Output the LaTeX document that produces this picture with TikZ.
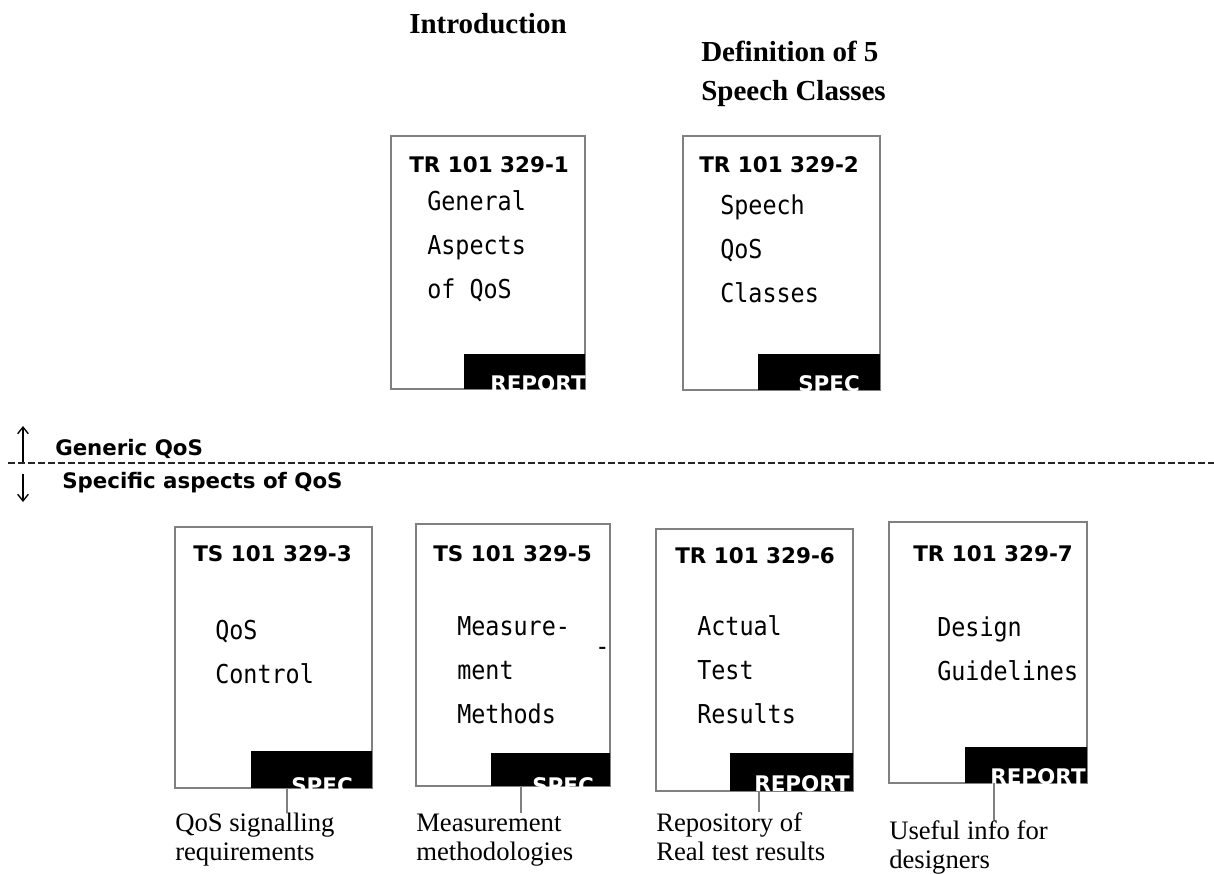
\documentclass[tikz,border=0pt]{standalone}
\usepackage{fontspec}
\setmainfont{Liberation Serif}
\newfontfamily\tagfont{DejaVu Sans}
\newfontfamily\bodyfont[FakeStretch=0.9]{DejaVu Sans Mono}
\usetikzlibrary{arrows.meta}
\tikzset{every node/.style={inner sep=0pt},
  docframe/.style={draw=black!50,line width=1.5pt},
  tagbar/.style={fill=black},
  tagtext/.style={anchor=base west,text=white,font=\tagfont\fontsize{16.1pt}{19pt}\selectfont\bfseries},
  docno/.style={anchor=base west,font=\tagfont\fontsize{16.1pt}{19pt}\selectfont\bfseries},
  doctitle/.style={anchor=base west,align=left,font=\bodyfont\fontsize{19.5pt}{33pt}\selectfont},
  heading/.style={anchor=base west,align=left,font=\fontsize{21.75pt}{29.25pt}\selectfont\bfseries},
  note/.style={anchor=base west,align=left,font=\fontsize{20pt}{21.75pt}\selectfont},
  leader/.style={draw=black!50,line width=1.1pt}}

\begin{document}
\begin{tikzpicture}[x=0.75pt,y=-0.75pt]
  \useasboundingbox (0,0) rectangle (1214,874);
  % headings (base = last line)
  \node[heading] (intro) at (409,34) {Introduction};
  \node[heading] (defn) at (701,101) {Definition of 5\\Speech Classes};
  % generic documents
  \draw[docframe] (391,136) coordinate (d1nw) rectangle (585,389) coordinate (d1se);
  \fill[tagbar] (464,354) rectangle (d1se);
  \node[docno] (n1) at (409,172) {TR 101 329-1};
  \node[doctitle] (b1) at (427,298) {General\\Aspects\\of QoS};
  \draw[docframe] (683,136) coordinate (d2nw) rectangle (880,390) coordinate (d2se);
  \fill[tagbar] (758,354) rectangle (d2se);
  \node[docno] (n2) at (699,172) {TR 101 329-2};
  \node[doctitle] (b2) at (720,302) {Speech\\QoS\\Classes};
  % divider
  \draw[black!85,line width=1.4pt,dash pattern=on 5pt off 2.5pt] (8,463) -- (1214,463);
  \coordinate (up0) at (23,462);
  \coordinate (dn0) at (23,474);
  \draw[line width=1pt,-{Straight Barb[length=5pt,width=8pt]}] (up0) -- ++(0,-36);
  \draw[line width=1pt,-{Straight Barb[length=5pt,width=8pt]}] (dn0) -- ++(0,28);
  \node[docno,font=\tagfont\fontsize{16pt}{19pt}\selectfont\bfseries] (gen) at (55,455) {Generic QoS};
  \node[docno,font=\tagfont\fontsize{16pt}{19pt}\selectfont\bfseries] (spc) at (62,488) {Specific aspects of QoS};
  % specific documents
  \draw[docframe] (175,527) coordinate (d3nw) rectangle (372,788) coordinate (d3se);
  \fill[tagbar] (251,751) rectangle (d3se);
  \node[docno] (n3) at (193,561) {TS 101 329-3};
  \node[doctitle] (b3) at (215,683) {QoS\\Control};
  \draw[docframe] (416,524) coordinate (d5nw) rectangle (610,786) coordinate (d5se);
  \fill[tagbar] (491,753) rectangle (d5se);
  \node[docno] (n5) at (433,561) {TS 101 329-5};
  \node[doctitle] (b5) at (457,723) {Measure-\\ment\\Methods};
  \node[doctitle] (dash5) at (595,655) {-};
  \draw[docframe] (656,529) coordinate (d6nw) rectangle (853,791) coordinate (d6se);
  \fill[tagbar] (730,753) rectangle (d6se);
  \node[docno] (n6) at (675,563) {TR 101 329-6};
  \node[doctitle] (b6) at (697,723) {Actual\\Test\\Results};
  \draw[docframe] (889,522) coordinate (d7nw) rectangle (1087,783) coordinate (d7se);
  \fill[tagbar] (965,747) rectangle (d7se);
  \node[docno] (n7) at (913,561) {TR 101 329-7};
  \node[doctitle] (b7) at (937,680) {Design\\Guidelines};
  % tags, cut off by the frame
  \foreach \d/\x/\y/\t in {d1/490/391/REPORT,d2/798/391/SPEC,d3/291/793/SPEC,d5/532/793/SPEC,d6/754/791/REPORT,d7/990/784/REPORT}{
    \begin{scope}
      \clip (\d nw) rectangle (\d se);
      \node[tagtext] (\d tag) at (\x,\y) {\t};
    \end{scope}
  }
  % notes
  \node[note] (l3) at (175,860) {QoS signalling\\requirements};
  \node[note] (l5) at (416,860) {Measurement\\methodologies};
  \node[note] (l6) at (656,860) {Repository of\\Real test results};
  \node[note] (l7) at (889,868) {Useful info for\\designers};
  \coordinate (t3) at (287,788);
  \coordinate (t5) at (521,786);
  \coordinate (t6) at (759,791);
  \coordinate (t7) at (994,783);
  \foreach \i in {3,5,6,7}
    \draw[leader] (t\i) -- (t\i |- l\i.north);
\end{tikzpicture}
\end{document}
